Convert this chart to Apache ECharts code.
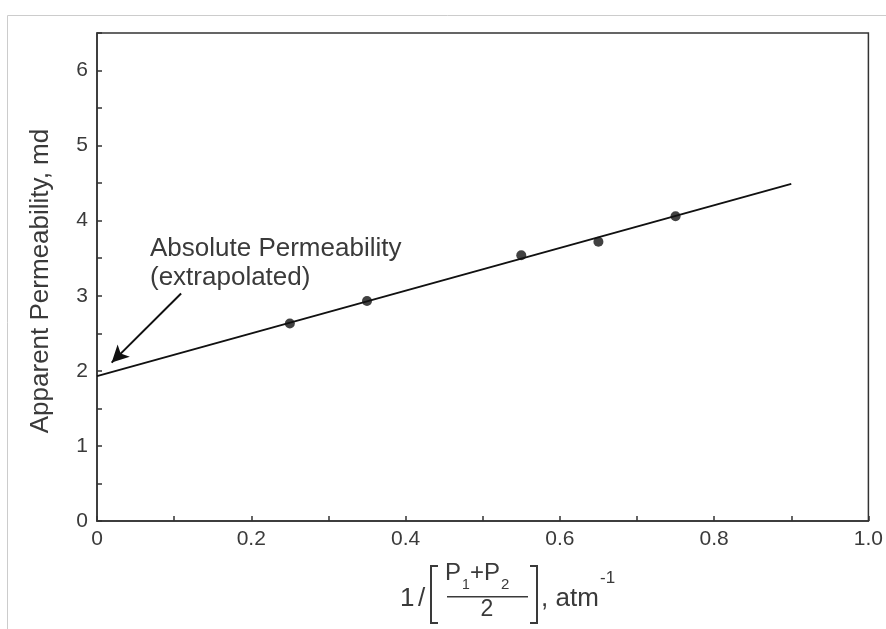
<!DOCTYPE html>
<html><head><meta charset="utf-8">
<script src="https://cdn.jsdelivr.net/npm/echarts@6/dist/echarts.min.js"></script>
<style>html,body{margin:0;padding:0;background:#fff}#c{width:886px;height:629px}</style>
</head><body><div id="c"></div>
<script>
const pointX = [0.25, 0.35, 0.55, 0.65, 0.75];
const pointY = [2.63, 2.93, 3.54, 3.72, 4.06];
const fitX = [0, 0.9];
const fitY = [1.93, 4.49];
const arrowFrom = [0.109, 3.03];
const arrowTo = [0.019, 2.11];
const xTicks = [0, 0.2, 0.4, 0.6, 0.8, 1.0];
const yTicks = [0, 1, 2, 3, 4, 5, 6];

const chart = echarts.init(document.getElementById('c'));
const font = 'Liberation Sans, Arial, sans-serif';
const axisCol = '#333';
const txt = '#3a3a3a';
function T(x, y, s, size, align) {
  return {type: 'text', x: x, y: y, silent: true,
    style: {text: s, font: size + 'px ' + font, fill: txt, align: align || 'left', verticalAlign: 'middle'}};
}
chart.setOption({
  animation: false,
  grid: {left: 97, right: 14, top: 33, bottom: 108, show: true, borderColor: axisCol, borderWidth: 1.5, backgroundColor: 'transparent'},
  xAxis: {
    type: 'value', min: 0, max: 1.0, interval: 0.2,
    axisLine: {lineStyle: {color: axisCol, width: 1.5}},
    axisTick: {inside: true, length: 5, lineStyle: {color: axisCol, width: 1.5}},
    minorTick: {show: true, splitNumber: 2, length: 5, lineStyle: {color: axisCol, width: 1.5}},
    splitLine: {show: false},
    axisLabel: {color: txt, fontSize: 21, fontFamily: font, margin: 8,
      formatter: v => xTicks.some(t => Math.abs(t - v) < 1e-9) ? (v === 0 ? '0' : v.toFixed(1)) : ''}
  },
  yAxis: {
    type: 'value', min: 0, max: 6.5, interval: 1,
    axisLine: {lineStyle: {color: axisCol, width: 1.5}},
    axisTick: {inside: true, length: 5, lineStyle: {color: axisCol, width: 1.5}},
    minorTick: {show: true, splitNumber: 2, length: 5, lineStyle: {color: axisCol, width: 1.5}},
    splitLine: {show: false},
    axisLabel: {color: txt, fontSize: 21, fontFamily: font, margin: 9,
      formatter: v => yTicks.indexOf(v) >= 0 ? String(v) : ''}
  },
  series: [
    {type: 'line', data: fitX.map((x, i) => [x, fitY[i]]), symbol: 'none',
     lineStyle: {color: '#111', width: 2}, z: 2,
     markLine: {silent: true, symbol: ['none', 'arrow'], symbolSize: [13, 17],
       lineStyle: {color: '#111', width: 2, type: 'solid'}, label: {show: false},
       data: [[{coord: arrowFrom}, {coord: arrowTo}]]}},
    {type: 'scatter', data: pointX.map((x, i) => [x, pointY[i]]), symbolSize: 10,
     itemStyle: {color: '#111'}, z: 3}
  ],
  graphic: [
    {type: 'rect', left: 5, top: 13, shape: {width: 900, height: 700}, style: {fill: 'none', stroke: '#ccc', lineWidth: 1}, silent: true},
    {type: 'text', x: 41, y: 281, rotation: Math.PI / 2, silent: true,
     style: {text: 'Apparent Permeability, md', font: '26px ' + font, fill: txt, align: 'center', verticalAlign: 'middle'}},
    T(150, 249, 'Absolute Permeability', 26),
    T(150, 278, '(extrapolated)', 26),
    T(400, 599, '1', 26),
    T(418, 599, '/', 26),
    {type: 'polyline', silent: true, shape: {points: [[438, 566], [431, 566], [431, 623], [438, 623]]}, style: {stroke: txt, lineWidth: 2, fill: 'none'}},
    T(445, 573, 'P', 24),
    T(462, 585, '1', 14),
    T(470, 573, '+P', 24),
    T(501, 585, '2', 15),
    {type: 'rect', silent: true, shape: {x: 447, y: 596, width: 81, height: 1.6}, style: {fill: txt}},
    T(487, 610, '2', 23, 'center'),
    {type: 'polyline', silent: true, shape: {points: [[530, 566], [537, 566], [537, 623], [530, 623]]}, style: {stroke: txt, lineWidth: 2, fill: 'none'}},
    T(541, 599, ', atm', 26),
    T(600, 578, '-1', 17)
  ]
});
</script></body></html>
